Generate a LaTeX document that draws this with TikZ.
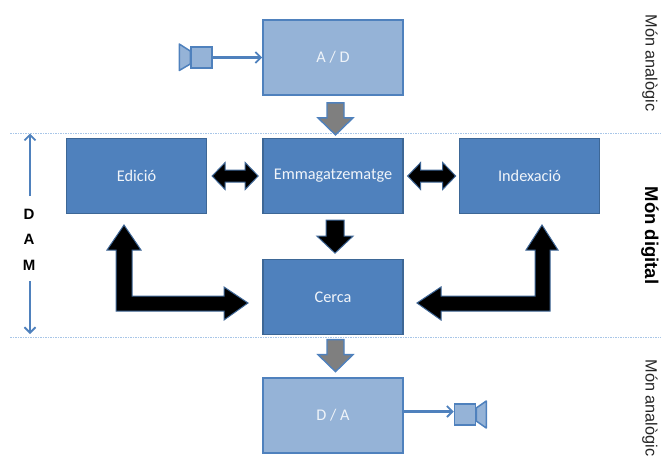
\documentclass[tikz,border=0pt]{standalone}
\usepackage{fontspec}
\setmainfont{Carlito}
\newfontfamily\lib{Liberation Sans}
\definecolor{mid}{HTML}{4F81BD}
\definecolor{midd}{HTML}{3D6796}
\definecolor{lite}{HTML}{95B3D7}
\definecolor{gr}{HTML}{7F7F7F}
\definecolor{dots}{HTML}{A8C6E8}
\tikzset{
 darkbox/.style={draw=midd,line width=1.3pt,fill=mid,text=white!92!mid,minimum width=140pt,minimum height=75pt,inner sep=0pt,font=\fontsize{16.3}{18}\selectfont},
 litebox/.style={draw=mid,line width=1.8pt,fill=lite,text=white!85!lite,minimum width=140pt,minimum height=75pt,inner sep=0pt,font=\fontsize{16.3}{18}\selectfont},
 blackarrow/.style={draw=mid!80!black,line width=1pt,fill=black,line join=miter},
 greyarrow/.style={draw=mid,line width=1.4pt,fill=gr,line join=miter},
 thin arrow/.style={draw=mid,line width=2.1pt,-{Straight Barb[length=5.5pt,width=11pt,line width=1.8pt]}},
 cam/.style={draw=mid,line width=1.5pt,fill=lite,line join=round},
 divider/.style={draw=dots,line width=.9pt,dash pattern=on 2pt off 1pt on 1pt off 1pt},
 sidetext/.style={rotate=-90,text=black!85,font=\lib\fontsize{16.3}{18}\selectfont},
 damtext/.style={font=\lib\bfseries\fontsize{15}{17}\selectfont,inner sep=0pt},
}
\usetikzlibrary{arrows.meta}
\begin{document}
\begin{tikzpicture}[x=1pt,y=-1pt]
\useasboundingbox (0,0) rectangle (661,456);
\clip (0,0) rectangle (661,456);
\coordinate (divtopL) at (10,133.5); \coordinate (divtopR) at (661,133.5);
\coordinate (divbotL) at (10,337); \coordinate (divbotR) at (661,337);
\draw[divider] (divtopL) -- (divtopR);
\draw[divider] (divbotL) -- (divbotR);
\node[litebox] (ad) at (333,57.5) {A / D};
\node[darkbox] (edi) at (136.5,176) {Edició};
\node[darkbox] (emm) at (333,176) {Emmagatzematge};
\node[darkbox] (ind) at (529.5,176) {Indexació};
\node[darkbox] (cer) at (333,297) {Cerca};
\node[litebox] (da) at (333,415.5) {D / A};
% cameras
\node[draw=mid,line width=1.5pt,fill=lite,minimum width=21pt,minimum height=21pt,inner sep=0pt] (camL) at (201.5,57.5) {};
\draw[cam] (camL.west) ++(0,-6.5) -- ++(-11,-7) -- ++(0,26.5) -- ++(11,-6.5) -- cycle;
\node[draw=mid,line width=1.5pt,fill=lite,minimum width=21pt,minimum height=21pt,inner sep=0pt] (camR) at (465,414.5) {};
\draw[cam] (camR.east) ++(0,-6.5) -- ++(10,-7) -- ++(0,27) -- ++(-10,-7) -- cycle;
\draw[thin arrow] (camL.east) -- (ad.west);
\draw[thin arrow] (da.east |- 0,411.5) -- (camR.west |- 0,411.5);
% grey block arrows
\draw[greyarrow] ([shift={(-6,7)}]ad.south) -- ++(17,0) -- ++(0,15) -- ++(9,0) -- ++(-17.5,17) -- ++(-17.5,-17) -- ++(9,0) -- cycle;
\draw[greyarrow] ([shift={(-6,4.5)}]cer.south) -- ++(17,0) -- ++(0,15) -- ++(9,0) -- ++(-17.5,17) -- ++(-17.5,-17) -- ++(9,0) -- cycle;
% black arrows
\draw[blackarrow] ([shift={(-7,6)}]emm.south) -- ++(18,0) -- ++(0,16) -- ++(9,0) -- ++(-18,17) -- ++(-18,-17) -- ++(9,0) -- cycle;
\draw[blackarrow] ([xshift=5pt]edi.east) -- ++(13,-13.5) -- ++(0,7.5) -- ++(20,0) -- ++(0,-7.5) -- ++(13,13.5) -- ++(-13,13.5) -- ++(0,-7.5) -- ++(-20,0) -- ++(0,7.5) -- cycle;
\draw[blackarrow] ([xshift=4pt]emm.east) -- ++(13,-13.5) -- ++(0,7.5) -- ++(22,0) -- ++(0,-7.5) -- ++(13,13.5) -- ++(-13,13.5) -- ++(0,-7.5) -- ++(-22,0) -- ++(0,7.5) -- cycle;
\coordinate (lt) at (124,225); \coordinate (rt) at (542,225);
\draw[blackarrow] (lt) -- ++(17,25) -- ++(-9,0) -- ++(0,46) -- ++(92,0) -- ++(0,-9) -- ++(24,16) -- ++(-24,17) -- ++(0,-9) -- ++(-108,0) -- ++(0,-61) -- ++(-9,0) -- cycle;
\draw[blackarrow] (rt) -- ++(-16,25) -- ++(9,0) -- ++(0,46) -- ++(-94,0) -- ++(0,-9) -- ++(-24,16) -- ++(24,17) -- ++(0,-9) -- ++(109,0) -- ++(0,-61) -- ++(8,0) -- cycle;
% DAM
\node[damtext] (d) at (29,214) {D};
\node[damtext] (a) at (29,239.5) {A};
\node[damtext] (m) at (29,265) {M};
\coordinate (damtop) at (30,133.5); \coordinate (dambot) at (30,334);
\draw[thin arrow] (30,196) -- (damtop);
\draw[thin arrow] (30,281) -- (dambot);
% side labels
\node[sidetext] (t1) at (650,63) {Món analògic};
\node[sidetext,font=\lib\bfseries\fontsize{18.5}{20}\selectfont,text=black] (t2) at (650,235.5) {Món digital};
\node[sidetext,anchor=west] (t3) at (650,356) {Món analògic};
\end{tikzpicture}
\end{document}
